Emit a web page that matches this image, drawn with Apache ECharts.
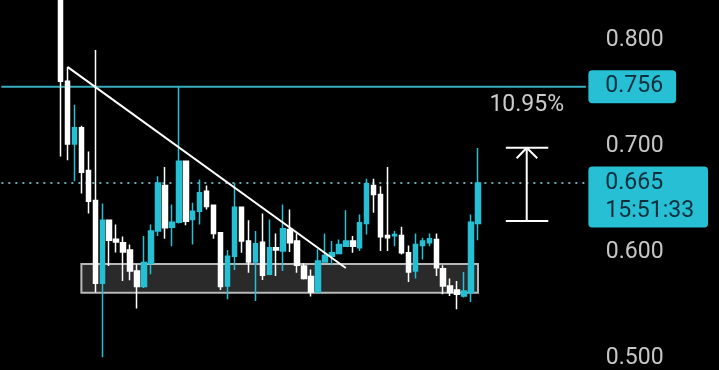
<!DOCTYPE html>
<html>
<head>
<meta charset="utf-8">
<script src="https://cdn.jsdelivr.net/npm/echarts@6/dist/echarts.min.js"></script>
<style>
html,body{margin:0;padding:0;background:#000;}
#chart{width:719px;height:370px;}
</style>
</head>
<body>
<div id="chart"></div>
<script>
// ---- data ----
const opens  = [0.850,0.761,0.702,0.7172,0.677,0.6485,0.5705,0.630,0.612,0.6087,0.6018,0.582,0.5674,0.5893,0.6197,0.6627,0.6234,0.6281,0.6855,0.6307,0.6385,0.6573,0.6441,0.6181,0.568,0.5961,0.6422,0.6103,0.5905,0.6093,0.5789,0.604,0.6009,0.6213,0.6103,0.5867,0.5768,0.5623,0.5905,0.5961,0.5987,0.6055,0.6103,0.604,0.6269,0.6627,0.6542,0.6156,0.6153,0.6156,0.5993,0.582,0.6062,0.6088,0.6119,0.5843,0.568,0.5642,0.5585,0.5617,0.6269];
const closes = [0.761,0.702,0.7172,0.6752,0.6479,0.5705,0.630,0.6112,0.6095,0.5999,0.582,0.5674,0.5902,0.6197,0.6652,0.6229,0.6281,0.6855,0.629,0.6385,0.6558,0.6429,0.6175,0.5674,0.5961,0.6422,0.6103,0.5905,0.6078,0.578,0.604,0.6018,0.6219,0.6088,0.5874,0.5749,0.5623,0.5914,0.5968,0.5993,0.6071,0.6103,0.6055,0.6275,0.6645,0.6542,0.6144,0.6134,0.6166,0.5993,0.5811,0.6071,0.6103,0.6125,0.5852,0.568,0.5617,0.5601,0.5632,0.6281,0.665];
const lows   = [0.690,0.6865,0.6667,0.6551,0.6363,0.562,0.5008,0.5867,0.5996,0.5726,0.5733,0.5467,0.566,0.579,0.615,0.6125,0.6055,0.627,0.6253,0.6071,0.626,0.640,0.6125,0.5642,0.5554,0.583,0.5993,0.5805,0.5538,0.5736,0.578,0.5773,0.582,0.5999,0.5805,0.574,0.558,0.5623,0.5905,0.5874,0.5987,0.6055,0.5993,0.6009,0.6166,0.637,0.6009,0.6009,0.6055,0.5977,0.5717,0.5749,0.593,0.6055,0.5773,0.5601,0.5585,0.546,0.557,0.5529,0.6112];
const highs  = [0.860,0.7746,0.7389,0.719,0.6949,0.7906,0.6457,0.6307,0.626,0.6147,0.6071,0.5883,0.615,0.626,0.6714,0.6802,0.6448,0.756,0.6855,0.6464,0.6683,0.6627,0.6441,0.6181,0.6018,0.6652,0.6422,0.630,0.6197,0.6363,0.6307,0.6175,0.6448,0.6401,0.6175,0.5893,0.5836,0.6025,0.6175,0.6103,0.6119,0.6394,0.615,0.6354,0.669,0.669,0.662,0.6802,0.6197,0.6238,0.6062,0.6175,0.6134,0.6175,0.6175,0.5874,0.5749,0.5726,0.5811,0.6354,0.6981];

const yTicks = [0.5, 0.6, 0.7, 0.8];
const resistance = 0.756;
const lastPrice = 0.665;
const lastTime = '15:51:33';
const changeText = '10.95%';

// annotations in slot units (x) and price (y)
const trendLine = [[9, 0.7746], [49, 0.5849]];
const zoneBox = [[11, 0.5887], [68, 0.5616]];
const measureStem = [[75, 0.6984], [75, 0.6292]];
const measureTopCap = [[72, 0.6984], [78.1, 0.6984]];
const measureBottomCap = [[72, 0.6292], [78.1, 0.6292]];
const measureArrow = [[73.56, 0.6884], [75, 0.6984], [76.52, 0.6884]];
const changeLabelPos = [75, 0.7385];

// ---- layout ----
const lead = 8;          // empty slots before first candle
const slots = 84;        // total category slots
const cats = Array.from({length: slots}, (_, i) => String(i));
const candles = [];
for (let i = 0; i < lead; i++) candles.push('-');
for (let i = 0; i < opens.length; i++) candles.push([opens[i], closes[i], lows[i], highs[i]]);

const CYAN = '#26bfd4';
const FONT = 'Roboto';
const xLo = -0.5, xHi = slots - 0.5;

const chart = echarts.init(document.getElementById('chart'), null, {renderer: 'canvas'});
const white = {color: '#ffffff', width: 2};
function seg(data) {
  return {type: 'line', xAxisIndex: 1, yAxisIndex: 0, data: data, symbol: 'none',
          lineStyle: white, silent: true, z: 4, animation: false};
}
function level(v, lineStyle, label, z) {
  return {type: 'line', xAxisIndex: 1, yAxisIndex: 0, data: [[xLo, v], [xHi, v]], symbol: 'none',
          lineStyle: lineStyle, silent: true, z: z, clip: false,
          endLabel: Object.assign({show: true, distance: 2.5}, label)};
}
const boxLabel = {backgroundColor: CYAN, color: '#0c2e3c', fontSize: 23, fontFamily: FONT, borderRadius: 4, align: 'left'};
chart.setOption({
  backgroundColor: '#000000',
  animation: false,
  grid: {left: 1.36, top: 0, width: 584.5, height: 370, containLabel: false},
  xAxis: [
    {type: 'category', data: cats, show: false, boundaryGap: true},
    {type: 'value', min: xLo, max: xHi, show: false}
  ],
  yAxis: {
    type: 'value', position: 'right', min: 0.48868, max: 0.83774,
    splitLine: {show: false}, axisLine: {show: false}, axisTick: {show: false},
    axisLabel: {
      customValues: yTicks, margin: 20, color: '#c6c6c6', fontSize: 23, fontFamily: FONT,
      padding: [5, 0, 0, 0],
      formatter: v => v.toFixed(3)
    }
  },
  series: [
    {
      type: 'line', xAxisIndex: 1, yAxisIndex: 0, data: [], silent: true, z: 1,
      markArea: {
        silent: true,
        itemStyle: {color: '#2a2a2a', borderColor: '#b8b8b8', borderWidth: 2},
        data: [[{coord: zoneBox[0]}, {coord: zoneBox[1]}]]
      }
    },
    level(resistance, {color: '#37adbd', width: 2, type: 'solid'},
      Object.assign({}, boxLabel, {formatter: () => resistance.toFixed(3), padding: [5, 13, 3, 17], lineHeight: 25}), 2),
    level(lastPrice, {color: '#6aa6ae', width: 2, type: [2, 5]},
      Object.assign({}, boxLabel, {formatter: () => lastPrice.toFixed(3) + '\n' + lastTime, padding: [4, 14, 1, 17], lineHeight: 28, offset: [0, 14]}), 2),
    {
      type: 'candlestick', xAxisIndex: 0, yAxisIndex: 0, data: candles, z: 3,
      barWidth: 5, clip: true,
      itemStyle: {color: CYAN, color0: '#ffffff', borderColor: CYAN, borderColor0: '#ffffff', borderWidth: 1.5}
    },
    seg(trendLine),
    seg(measureStem),
    seg(measureTopCap),
    seg(measureBottomCap),
    seg(measureArrow),
    {
      type: 'scatter', xAxisIndex: 1, yAxisIndex: 0, data: [changeLabelPos], symbolSize: 0,
      silent: true, z: 5,
      label: {show: true, position: 'inside', formatter: changeText, color: '#ffffff', fontSize: 23, fontFamily: FONT}
    }
  ]
});
</script>
</body>
</html>
